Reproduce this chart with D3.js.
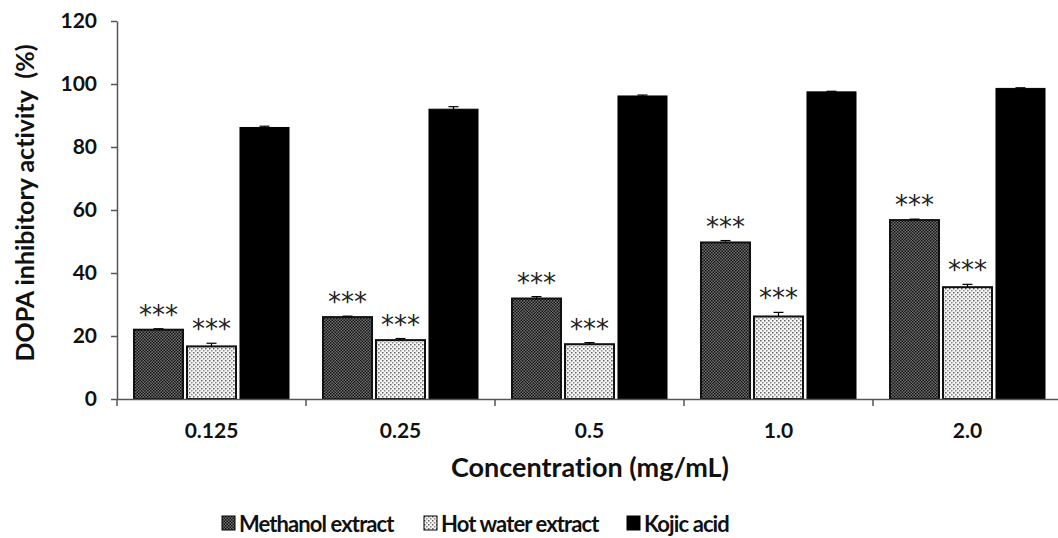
<!DOCTYPE html>
<html>
<head>
  <style>
    body{ margin:0; background:#fff; }
    text{ font-family: Lato, "Open Sans", sans-serif; font-weight:700; fill:#111; font-variant-ligatures:none; }
    .axis path, .axis line{ stroke:#555; stroke-width:1.5px; }
    .star{ font-family:"DejaVu Sans", sans-serif; font-weight:400; fill:#222; }
  </style>
  <script src="https://d3js.org/d3.v7.min.js"></script>
</head>
<body>
<div class="chart"></div>
<script>
const concentrations = ['0.125', '0.25', '0.5', '1.0', '2.0'];
const seriesNames = ['Methanol extract', 'Hot water extract', 'Kojic acid'];
const methanol = [22.0, 26.0, 31.9, 49.7, 56.8];
const hotWater = [16.7, 18.7, 17.4, 26.2, 35.5];
const kojic = [86.2, 92.0, 96.2, 97.5, 98.6];
const methanolErr = [0.3, 0.3, 0.6, 0.6, 0.3];
const hotWaterErr = [1.0, 0.5, 0.5, 1.3, 0.9];
const kojicErr = [0.4, 0.8, 0.3, 0.2, 0.2];
const yTicks = [0, 20, 40, 60, 80, 100, 120];

const width = 1058, height = 538;
const svg = d3.select('.chart').append('svg')
  .attr('width', width).attr('height', height);

const defs = svg.append('defs');
const p1 = defs.append('pattern').attr('id', 'pat-meth')
  .attr('width', 3).attr('height', 3).attr('patternUnits', 'userSpaceOnUse');
p1.append('rect').attr('width', 3).attr('height', 3).attr('fill', '#6e6e6e');
p1.append('rect').attr('width', 1.5).attr('height', 1.5).attr('fill', '#151515');
p1.append('rect').attr('x', 1.5).attr('y', 1.5).attr('width', 1.5).attr('height', 1.5).attr('fill', '#151515');

const p2 = defs.append('pattern').attr('id', 'pat-hot')
  .attr('width', 4).attr('height', 4).attr('patternUnits', 'userSpaceOnUse');
p2.append('rect').attr('width', 4).attr('height', 4).attr('fill', '#f4f4f4');
p2.append('rect').attr('width', 1.5).attr('height', 1.5).attr('fill', '#666');
p2.append('rect').attr('x', 2).attr('y', 2).attr('width', 1.5).attr('height', 1.5).attr('fill', '#8a8a8a');

const fills = ['url(#pat-meth)', 'url(#pat-hot)', '#000'];
const strokes = ['#111', '#111', '#000'];

const x0 = d3.scaleBand().domain(concentrations).range([117, 1062]);
const x1 = d3.scaleBand().domain(seriesNames).range([17, 172]).paddingInner(0.075);
const y = d3.scaleLinear().domain([0, 120]).range([399, 21]);

const values = [methanol, hotWater, kojic];
const errs = [methanolErr, hotWaterErr, kojicErr];
const stars = [true, true, false];

// bars
concentrations.forEach((c, i) => {
  const g = svg.append('g').attr('transform', `translate(${x0(c)},0)`);
  seriesNames.forEach((s, k) => {
    const v = values[k][i], e = errs[k][i];
    const bx = x1(s), bw = x1.bandwidth();
    g.append('rect')
      .attr('x', bx).attr('y', y(v))
      .attr('width', bw).attr('height', y(0) - y(v))
      .attr('fill', fills[k]).attr('stroke', strokes[k]).attr('stroke-width', k < 2 ? 2 : 1);
    const cx = bx + bw / 2;
    g.append('line').attr('x1', cx).attr('x2', cx)
      .attr('y1', y(v)).attr('y2', y(v + e)).attr('stroke', '#000').attr('stroke-width', 1.2);
    g.append('line').attr('x1', cx - 5).attr('x2', cx + 5)
      .attr('y1', y(v + e)).attr('y2', y(v + e)).attr('stroke', '#000').attr('stroke-width', 1.2);
    if (stars[k]) {
      g.append('text').attr('class', 'star')
        .attr('x', cx).attr('y', y(v + e) - 5)
        .attr('text-anchor', 'middle').attr('font-size', 26)
        .text('***');
    }
  });
});

// y axis
const yAxis = svg.append('g').attr('class', 'axis')
  .attr('transform', 'translate(117,0)')
  .call(d3.axisLeft(y).tickValues(yTicks).tickSize(6).tickSizeOuter(0).tickPadding(14));
yAxis.selectAll('text').attr('font-size', 21).style('font-family', 'Lato').style('font-weight', 700).attr('fill', '#111');

// x axis
const xAxis = svg.append('g').attr('class', 'axis')
  .attr('transform', 'translate(0,399)')
  .call(d3.axisBottom(x0).tickSize(0).tickSizeOuter(0).tickPadding(24));
xAxis.selectAll('text').attr('font-size', 21).style('font-family', 'Lato').style('font-weight', 700).attr('fill', '#111');
xAxis.selectAll('.boundary').data(concentrations).enter().append('line')
  .attr('x1', d => x0(d)).attr('x2', d => x0(d))
  .attr('y1', 0).attr('y2', 7).attr('stroke', '#555').attr('stroke-width', 1.5);

// axis titles
svg.append('text')
  .attr('transform', 'translate(34,203) rotate(-90)')
  .attr('text-anchor', 'middle').attr('font-size', 25)
  .style('white-space', 'pre')
  .text('DOPA inhibitory activity  (%)');

svg.append('text')
  .attr('x', 590).attr('y', 477)
  .attr('text-anchor', 'middle').attr('font-size', 27)
  .text('Concentration (mg/mL)');

// legend
const legendX = [222, 424, 627];
seriesNames.forEach((s, k) => {
  svg.append('rect').attr('x', legendX[k]).attr('y', 516)
    .attr('width', 13).attr('height', 14)
    .attr('fill', fills[k]).attr('stroke', '#000').attr('stroke-width', 1);
  svg.append('text').attr('x', legendX[k] + 17).attr('y', 532)
    .attr('font-size', 22).attr('letter-spacing', -0.9).text(s);
});
</script>
</body>
</html>
